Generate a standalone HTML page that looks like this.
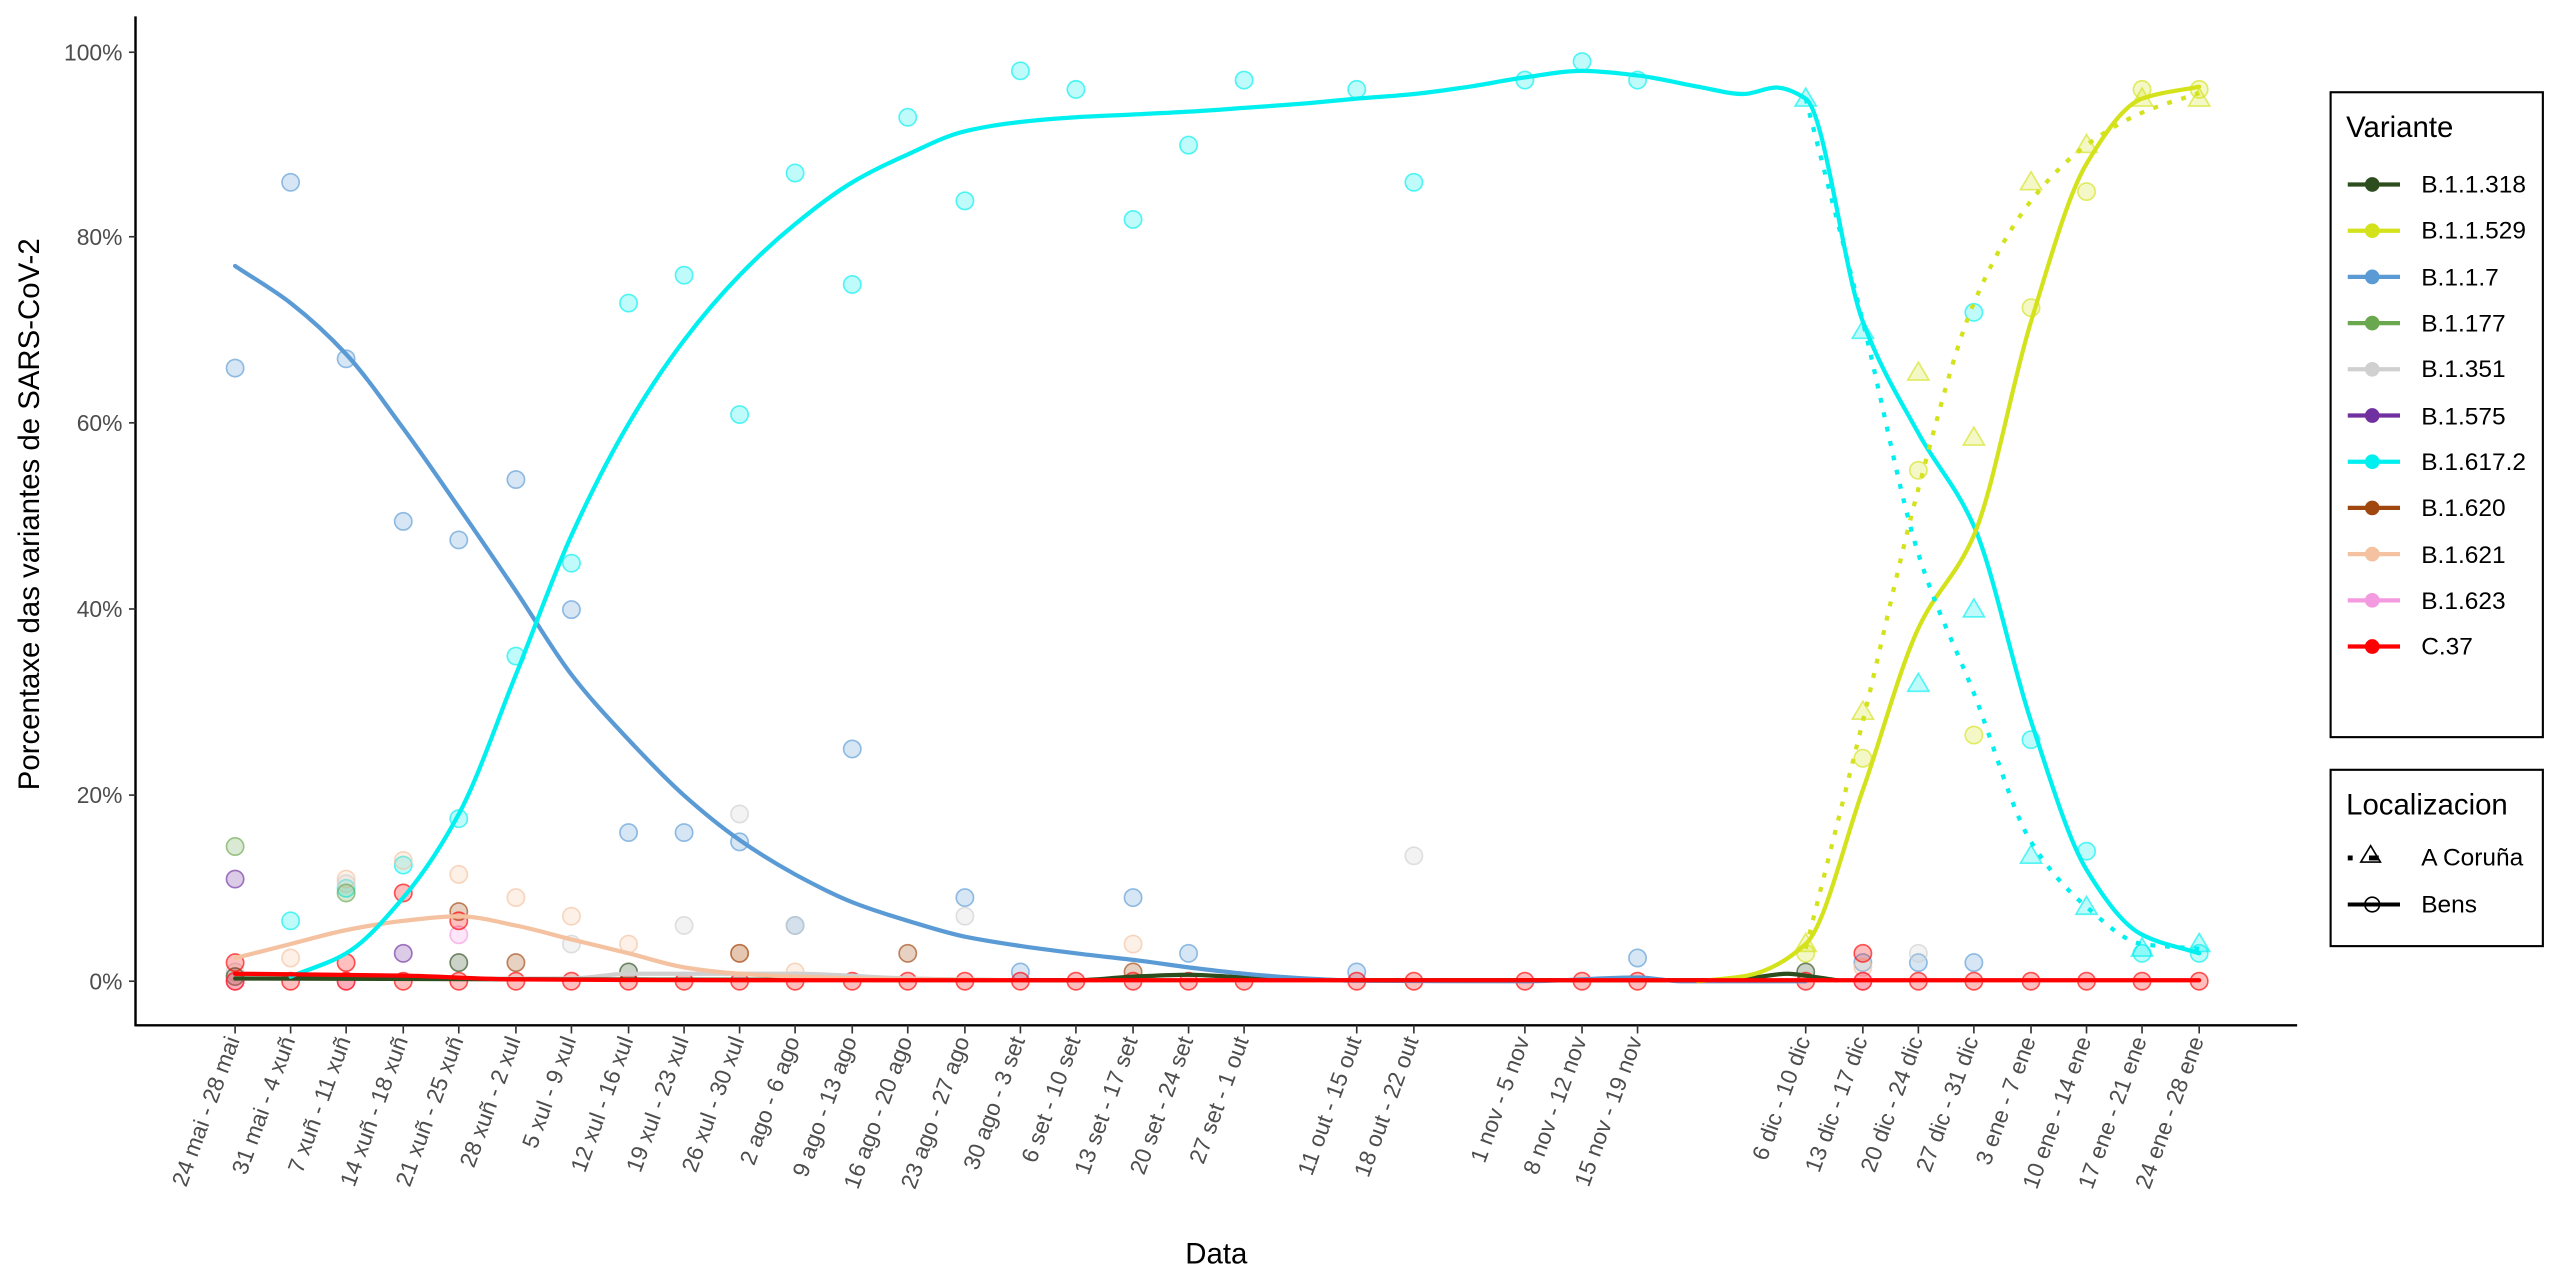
<!DOCTYPE html>
<html><head><meta charset="utf-8">
<style>
html,body{margin:0;padding:0;background:#fff;}
svg{display:block;}
text{font-family:"Liberation Sans",sans-serif;}
.tk{font-size:14px;fill:#4d4d4d;}
.xl{font-size:14px;fill:#4d4d4d;text-anchor:end;}
.lg{font-size:15px;fill:#000;}
</style></head>
<body>
<svg id="s" width="2560" height="1280" viewBox="0 0 1568 784" xmlns="http://www.w3.org/2000/svg">
<rect width="1568" height="784" fill="#fff"/>
<g id="pts"></g>
<g id="lines"></g>
<line x1="83" y1="10" x2="83" y2="628.5" stroke="#000" stroke-width="1.5"/>
<line x1="82.5" y1="628" x2="1407" y2="628" stroke="#000" stroke-width="1.5"/>
<g stroke="#333" stroke-width="1">
<line x1="79" y1="601" x2="83" y2="601"/><line x1="79" y1="487" x2="83" y2="487"/><line x1="79" y1="373" x2="83" y2="373"/><line x1="79" y1="259" x2="83" y2="259"/><line x1="79" y1="145" x2="83" y2="145"/><line x1="79" y1="32" x2="83" y2="32"/>
</g>
<g class="tk" text-anchor="end">
<text x="75" y="606">0%</text><text x="75" y="492">20%</text><text x="75" y="378">40%</text><text x="75" y="264">60%</text><text x="75" y="150">80%</text><text x="75" y="37">100%</text>
</g>
<g id="xt" stroke="#333" stroke-width="1"></g>
<g>
<text class="xl" transform="translate(147,637) rotate(-70)">24 mai - 28 mai</text>
<text class="xl" transform="translate(181,637) rotate(-70)">31 mai - 4 xuñ</text>
<text class="xl" transform="translate(215,637) rotate(-70)">7 xuñ - 11 xuñ</text>
<text class="xl" transform="translate(250,637) rotate(-70)">14 xuñ - 18 xuñ</text>
<text class="xl" transform="translate(284,637) rotate(-70)">21 xuñ - 25 xuñ</text>
<text class="xl" transform="translate(319,637) rotate(-70)">28 xuñ - 2 xul</text>
<text class="xl" transform="translate(353,637) rotate(-70)">5 xul - 9 xul</text>
<text class="xl" transform="translate(388,637) rotate(-70)">12 xul - 16 xul</text>
<text class="xl" transform="translate(422,637) rotate(-70)">19 xul - 23 xul</text>
<text class="xl" transform="translate(456,637) rotate(-70)">26 xul - 30 xul</text>
<text class="xl" transform="translate(490,637) rotate(-70)">2 ago - 6 ago</text>
<text class="xl" transform="translate(525,637) rotate(-70)">9 ago - 13 ago</text>
<text class="xl" transform="translate(559,637) rotate(-70)">16 ago - 20 ago</text>
<text class="xl" transform="translate(594,637) rotate(-70)">23 ago - 27 ago</text>
<text class="xl" transform="translate(628,637) rotate(-70)">30 ago - 3 set</text>
<text class="xl" transform="translate(662,637) rotate(-70)">6 set - 10 set</text>
<text class="xl" transform="translate(697,637) rotate(-70)">13 set - 17 set</text>
<text class="xl" transform="translate(731,637) rotate(-70)">20 set - 24 set</text>
<text class="xl" transform="translate(765,637) rotate(-70)">27 set - 1 out</text>
<text class="xl" transform="translate(834,637) rotate(-70)">11 out - 15 out</text>
<text class="xl" transform="translate(869,637) rotate(-70)">18 out - 22 out</text>
<text class="xl" transform="translate(937,637) rotate(-70)">1 nov - 5 nov</text>
<text class="xl" transform="translate(972,637) rotate(-70)">8 nov - 12 nov</text>
<text class="xl" transform="translate(1006,637) rotate(-70)">15 nov - 19 nov</text>
<text class="xl" transform="translate(1109,637) rotate(-70)">6 dic - 10 dic</text>
<text class="xl" transform="translate(1144,637) rotate(-70)">13 dic - 17 dic</text>
<text class="xl" transform="translate(1178,637) rotate(-70)">20 dic - 24 dic</text>
<text class="xl" transform="translate(1212,637) rotate(-70)">27 dic - 31 dic</text>
<text class="xl" transform="translate(1247,637) rotate(-70)">3 ene - 7 ene</text>
<text class="xl" transform="translate(1281,637) rotate(-70)">10 ene - 14 ene</text>
<text class="xl" transform="translate(1315,637) rotate(-70)">17 ene - 21 ene</text>
<text class="xl" transform="translate(1350,637) rotate(-70)">24 ene - 28 ene</text>
</g>
<text x="745" y="774" font-size="18" text-anchor="middle">Data</text>
<text transform="translate(24,315) rotate(-90)" font-size="18" text-anchor="middle">Porcentaxe das variantes de SARS-CoV-2</text>
<rect x="1427.5" y="56.5" width="130" height="395" fill="#fff" stroke="#000" stroke-width="1.3"/>
<text x="1437" y="84" font-size="18">Variante</text>
<g id="leg"></g>
<g class="lg">
<text x="1483" y="118">B.1.1.318</text>
<text x="1483" y="146">B.1.1.529</text>
<text x="1483" y="175">B.1.1.7</text>
<text x="1483" y="203">B.1.177</text>
<text x="1483" y="231">B.1.351</text>
<text x="1483" y="260">B.1.575</text>
<text x="1483" y="288">B.1.617.2</text>
<text x="1483" y="316">B.1.620</text>
<text x="1483" y="345">B.1.621</text>
<text x="1483" y="373">B.1.623</text>
<text x="1483" y="401">C.37</text>
</g>
<rect x="1427.5" y="471.5" width="130" height="108" fill="#fff" stroke="#000" stroke-width="1.3"/>
<text x="1437" y="499" font-size="18">Localizacion</text>
<rect x="1438" y="524" width="3" height="3" fill="#000"/>
<polygon points="1446,528 1452,518 1458,528" fill="none" stroke="#000" stroke-width="1"/>
<rect x="1451" y="524" width="6" height="3" fill="#000"/>
<line x1="1438" y1="554" x2="1470" y2="554" stroke="#000" stroke-width="2.5"/>
<circle cx="1453" cy="554" r="4.5" fill="none" stroke="#000" stroke-width="1"/>
<text class="lg" x="1483" y="530">A Coruña</text>
<text class="lg" x="1483" y="559">Bens</text>
</svg>
<script>
const NS="http://www.w3.org/2000/svg";
const X={a:144,b:178,c:212,d:247,e:281,f:316,g:350,h:385,i:419,j:453,k:487,l:522,m:556,n:591,o:625,p:659,q:694,r:728,s:762,t:831,u:866,v:934,w:969,x:1003,A:1106,B:1141,C:1175,D:1209,E:1244,F:1278,G:1312,H:1347};
const Y=p=>601-5.69*p;
const C={g318:"#2e4d1f",y:"#d4e21c",bl:"#5b9bd5",g177:"#6aa84f",gr:"#d0d0d0",pu:"#7030a0",cy:"#00f0f0",br:"#a0460f",or:"#f4c2a0",pk:"#f49ae0",rd:"#ff0000"};
function el(t,a,p){const e=document.createElementNS(NS,t);for(const k in a)e.setAttribute(k,a[k]);p.appendChild(e);return e;}
const xt=document.getElementById("xt");
for(const k in X) el("line",{x1:X[k],y1:628,x2:X[k],y2:633},xt);
const pts=document.getElementById("pts");
function circ(c,k,p){el("circle",{cx:X[k],cy:Y(p),r:5.3,fill:c,"fill-opacity":0.25,stroke:c,"stroke-opacity":0.65,"stroke-width":1},pts);}
function tri(c,k,p){const x=X[k],y=Y(p);el("polygon",{points:`${x-6.5},${y+4.5} ${x},${y-6.5} ${x+6.5},${y+4.5}`,fill:c,"fill-opacity":0.25,stroke:c,"stroke-opacity":0.65,"stroke-width":1},pts);}
const P={
bl:[["a",66],["b",86],["c",67],["d",49.5],["e",47.5],["f",54],["g",40],["h",16],["i",16],["j",15],["k",6],["l",25],["n",9],["o",1],["q",9],["r",3],["t",1],["x",2.5],["B",2],["C",2],["D",2]],
cy:[["b",6.5],["c",10],["d",12.5],["e",17.5],["f",35],["g",45],["h",73],["i",76],["j",61],["k",87],["l",75],["m",93],["n",84],["o",98],["p",96],["q",82],["r",90],["s",97],["t",96],["u",86],["v",97],["w",99],["x",97],["D",72],["E",26],["F",14],["G",3],["H",3]],
y:[["A",3],["B",24],["C",55],["D",26.5],["E",72.5],["F",85],["G",96],["H",96]],
or:[["b",2.5],["c",11],["d",13],["e",11.5],["f",9],["g",7],["h",4],["j",3],["k",1],["q",4],["B",1.5]],
gr:[["c",10.5],["g",4],["i",6],["j",18],["k",6],["n",7],["u",13.5],["C",3],["a",1]],
g177:[["a",14.5],["c",9.5]],
pu:[["a",11],["d",3]],
br:[["e",7.5],["f",2],["m",3],["j",3],["q",1]],
g318:[["e",2],["h",1],["A",1],["a",0.5]],
pk:[["e",5],["a",0],["c",0],["B",0]]
};
for(const c in P) for(const [k,p] of P[c]) circ(C[c],k,p);
for(const [k,p] of [["a",2],["c",2],["d",9.5],["e",6.5],["B",3]]) circ(C.rd,k,p);
for(const k in X) circ(C.rd,k,0);
for(const [k,p] of [["A",95],["B",70],["C",32],["D",40],["E",13.5],["F",8],["G",3.5],["H",4]]) tri(C.cy,k,p);
for(const [k,p] of [["A",4],["B",29],["C",65.5],["D",58.5],["E",86],["F",90],["G",95],["H",95]]) tri(C.y,k,p);
const lines=document.getElementById("lines");
function mono(a){ // monotone cubic (Fritsch-Carlson), a = [[x,y]]
 const n=a.length,d=[],m=[];
 for(let i=0;i<n-1;i++)d.push((a[i+1][1]-a[i][1])/(a[i+1][0]-a[i][0]));
 m[0]=d[0];m[n-1]=d[n-2];
 for(let i=1;i<n-1;i++){ if(d[i-1]*d[i]<=0)m[i]=0; else{const h0=a[i][0]-a[i-1][0],h1=a[i+1][0]-a[i][0];const w1=2*h1+h0,w2=h1+2*h0;m[i]=(w1+w2)/(w1/d[i-1]+w2/d[i]);}}
 let s=`M${a[0][0]},${a[0][1].toFixed(1)}`;
 for(let i=0;i<n-1;i++){const h=(a[i+1][0]-a[i][0])/3;
  s+=` C${(a[i][0]+h).toFixed(1)},${(a[i][1]+m[i]*h).toFixed(1)} ${(a[i+1][0]-h).toFixed(1)},${(a[i+1][1]-m[i+1]*h).toFixed(1)} ${a[i+1][0]},${a[i+1][1].toFixed(1)}`;}
 return s;}
function line(c,data,dash){const a=data.map(([k,p])=>[typeof k==="number"?k:X[k],Y(p)]);
 const at={d:mono(a),fill:"none",stroke:c,"stroke-width":2.6,"stroke-linecap":dash?"butt":"round"};
 if(dash)at["stroke-dasharray"]="3,6";el("path",at,lines);}
line(C.gr,[["a",0.3],["g",0.3],["h",0.8],["k",0.8],["m",0.3],["o",0.1],["H",0.1]]);
line(C.g318,[["a",0.3],["p",0.1],["q",0.5],["r",0.7],["s",0.4],["t",0.1],[1060,0.1],[1095,0.8],["A",0.6],[1125,0.1]]);
line(C.or,[["a",2.5],["b",4],["c",5.5],["d",6.5],["e",7],["f",6],["g",4.5],["h",3],["i",1.5],["j",0.8],["k",0.5],["m",0.2],["o",0.1]]);
line(C.bl,[["a",77],["b",73],["c",67.5],["d",59.5],["e",51],["f",42],["g",33],["h",26],["i",20],["j",15.2],["k",11.5],["l",8.5],["m",6.5],["n",4.8],["o",3.8],["p",3],["q",2.3],["r",1.5],["s",0.8],[800,0.3],["t",0.05],["v",0],["x",0.4],[1030,0],["A",0]]);
line(C.cy,[["b",0.5],["c",3],["d",9],["e",18],["f",33],["g",48],["h",60],["i",69],["j",76],["k",81.5],["l",86],["m",89],["n",91.5],["o",92.5],["p",93],["q",93.3],["r",93.6],["s",94],[800,94.5],["t",95],["u",95.5],[900,96.3],["v",97.3],["w",98],["x",97.5],[1040,96.3],[1068,95.5],[1088,96.2],["A",95],["B",71],["C",59],["D",49],["E",28],["F",12],["G",5],["H",3]]);
line(C.y,[[1040,0],[1070,0.6],["A",4],["B",20.6],["C",38],["D",48],["E",71],["F",88],["G",95],["H",96.3]]);
line(C.y,[["A",3.5],["B",28],["C",53],["D",73],["E",84],["F",90],["G",93.5],["H",95.6]],true);
line(C.cy,[["A",95],["B",71],["C",46],["D",31],["E",15],["F",8],["G",4],["H",3.5]],true);
line(C.rd,[["a",0.8],["d",0.6],["f",0.2],["j",0.1],["H",0.1]]);
const leg=document.getElementById("leg");
const lc=[C.g318,C.y,C.bl,C.g177,C.gr,C.pu,C.cy,C.br,C.or,C.pk,C.rd];
lc.forEach((c,i)=>{const y=113+i*28.3;el("line",{x1:1438,y1:y,x2:1470,y2:y,stroke:c,"stroke-width":2.6},leg);el("circle",{cx:1453,cy:y,r:4.5,fill:c},leg);});
</script>
</body></html>
